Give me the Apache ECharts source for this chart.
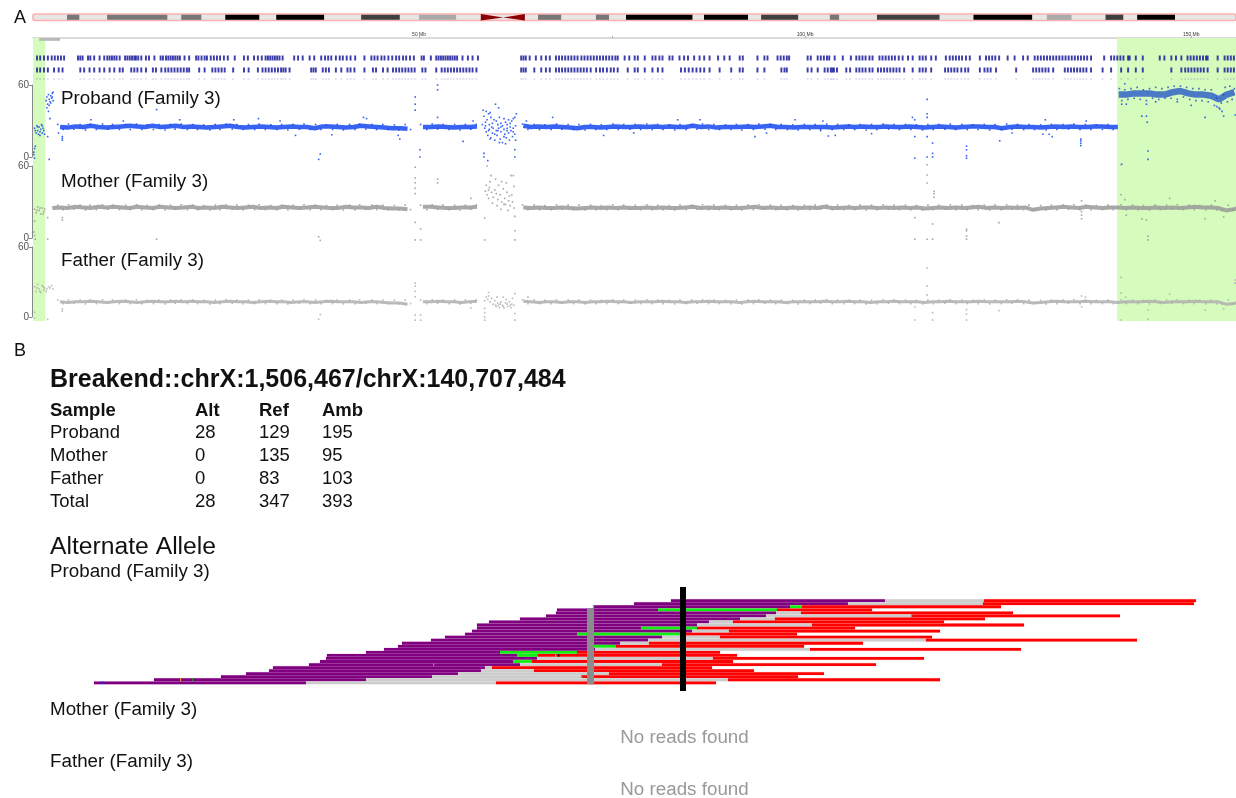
<!DOCTYPE html>
<html lang="en">
<head>
    <meta charset="UTF-8"/>
    <title>Breakend chrX</title>
    <script src="https://cdn.jsdelivr.net/npm/echarts@6/dist/echarts.min.js"></script>
    <style>
        html, body { margin: 0; background: #fff; }
        #chart { width: 1236px; height: 798px; }
    </style>
</head>
<body>
<div id="chart"></div>
<script>
// chromosome position in Mb
const chromEnd = 155.8;
// ideogram bands: start, end, stain
const bandStart = [4.4,9.6,19.2,24.9,31.5,42.5,50,65.4,72.9,76.8,86.9,94.3,103.2,109.3,121.8,131.3,138.9,143];
const bandEnd = [6,17.4,21.8,29.3,37.7,47.5,54.8,68.4,74.6,85.4,92.6,99.1,104.4,117.4,129.4,134.5,141.2,147.9];
const bandStain = ['#777','#777','#777','#000','#000','#3f3f3f','#aaa','#777','#777','#000','#000','#3f3f3f','#777','#3f3f3f','#000','#aaa','#3f3f3f','#000'];
const centromere = [58, 60.9, 63.7];
const highlightRanges = [[0, 1.6], [140.4, 155.8]];
const rulerLabels = [50, 100, 150];
const rulerTicks = [50, 75, 100, 150];
const mappedBar = [0.8, 3.5];

const geneRow1 = [0.4,0.8,1.3,1.8,2.3,2.7,3.1,3.5,3.9,5.7,6,6.3,7,7.3,7.8,8.5,9.1,9.5,9.8,10.1,10.4,10.7,11.1,11.8,12.1,12.4,12.7,13,13.2,13.5,13.9,14.5,14.9,15.6,16.4,16.7,17.1,17.4,17.7,18,18.3,18.6,18.9,19.5,20.1,21,21.3,21.7,22.1,22.4,22.9,23.3,23.7,24.1,24.6,25.1,26,27.2,27.7,28.5,29,29.5,30,30.3,30.6,30.9,31.2,31.5,31.8,32.2,33.7,34.2,34.8,35.7,36.3,37.2,37.7,38.1,38.5,39.1,39.6,40,40.5,41,41.6,42.8,43.7,44.1,44.5,45,45.4,45.9,46.4,46.9,47.3,47.8,48.2,48.7,49.2,
50.2,50.5,51.4,52.1,52.4,52.7,53,53.3,53.6,53.9,54.2,54.5,54.8,55.5,56.2,56.8,57.5,63.1,63.4,63.7,64.2,65,65.7,66.3,66.8,67.6,68,68.4,68.8,69.2,69.6,70,70.4,70.9,71.3,71.7,72.1,72.5,72.9,73.3,73.7,74.1,74.5,74.9,75.3,75.6,76.5,77.1,77.8,78.2,79.1,80.1,80.5,81,81.4,82.3,82.7,83.6,84.2,84.7,85.5,86.2,86.8,87.5,88.6,89.4,90.1,91.4,91.8,93.7,94.6,95,96.3,96.7,97.1,97.5,97.8,100.2,100.6,101.5,101.9,102.3,102.7,103,103.7,
104.75,105.8,106.5,106.9,107.3,107.7,108.2,108.6,109.5,109.9,110.3,110.7,111.1,111.5,112,112.5,113.2,113.8,114.7,115.1,115.5,116.2,116.8,118.1,118.6,119,119.4,119.8,120.2,120.7,121.2,122.5,123.3,123.7,124.1,124.5,125,126.1,127,128.1,128.7,129.6,130,130.4,130.8,131.2,131.6,132,132.4,132.8,133.2,133.6,134,134.4,134.8,135.2,135.6,136,136.4,136.9,138.6,139.5,139.9,140.3,140.7,141.1,141.7,141.9,142.7,143.6,145.8,146.4,147.3,147.9,148.6,149.4,149.8,150.2,150.6,151,151.4,151.8,152,153.3,154.2,154.6,155,155.4];
const geneRow2 = [0.4,0.8,1.3,1.8,2.6,3.2,3.7,6,6.5,7.2,7.8,8.5,9.1,9.8,10.4,11.1,11.5,12.6,13,13.4,13.9,14.5,15.4,15.8,16.5,17,17.4,17.8,18.2,18.6,19,19.4,19.8,20.1,21.4,22.1,23.1,23.5,23.9,24.3,24.7,25.8,27.2,27.8,29,29.6,30,30.4,30.8,31.2,31.6,32,32.3,32.6,33.1,35.9,36.2,36.5,37.4,37.8,38.2,39.1,39.8,40.6,41,41.5,42.8,43.9,44.3,45.2,45.8,46.5,46.9,47.3,47.7,48.1,48.5,48.9,49.3,
50.3,50.7,52.1,52.8,53.2,53.6,54,54.4,54.8,55.2,55.6,56,56.4,56.8,57.3,63.1,63.4,63.7,64.8,65.7,66.3,66.8,67.6,68,68.4,68.8,69.2,69.6,70,70.4,70.8,71.2,71.6,72.1,72.8,73.3,73.7,74.2,74.7,75.1,75.6,76.9,77.8,78.2,79.1,80.1,80.8,81.4,83.8,84.3,84.8,85.3,85.8,86.3,86.8,87.5,88.8,90.3,91.4,91.8,93.7,94.6,96.8,97.2,97.5,100.2,100.7,101.5,102.4,102.8,103.2,103.6,104,
103.4,105.2,105.7,106.5,106.9,107.3,107.7,108.2,108.6,109.3,109.7,110.1,110.5,110.9,111.3,111.7,112.1,112.7,113.8,114.7,115.1,115.5,116.2,118,118.4,118.8,119.2,119.6,120.1,120.6,121,122.5,123.1,123.5,123.9,124.6,127.2,129.4,129.8,130.2,130.6,131,131.4,132,133.5,133.9,134.3,134.7,135.1,135.5,135.9,136.3,136.9,138.4,139.5,140.8,141.7,142.7,143.6,147.3,148.6,149.1,149.5,149.9,150.3,150.7,151.1,151.5,152,153.3,154.2,154.6,155,155.4];

// depth per Mb bin
const probandDepth = [null,null,null,25,24.5,25.5,25,26,25,24.5,25,25.5,26,25.5,25,26,25,25.5,26,25,25.5,25,24.5,25,25.5,26,25,24.5,25,25.5,25,24.5,25,25.5,25,25,24,25.5,25.5,25,24.5,25,26,25.5,25,24.5,24,24,23.5,null,25,25,25.5,25,24.5,25,25,25.5,null,null,null,null,null,26,25,25.5,25,25.5,25,24.5,24,25,25,24.5,25,25.5,25,25,25.5,25,25.5,25,25.5,25,25,26,25,25.5,24.5,25,25,25,25.5,25,25.5,26,25,25,24.5,25,25,25,25,24.5,25,25.5,25,25.5,25,25,25.5,25,25,25.5,25,24.5,25,25.5,25,24.5,25,25.5,25.5,25,25,24,25,25.5,25,25,24.5,25,25.5,25,25.5,25,25,25.5,25.5,25,25];
const probandPar = [52,52,53,53,53,52,52,54,55,53,52,52,51,48,52,54];
const motherDepth = [null,null,25,25.5,25,26,25.5,25,26,25.5,26,25.5,25,26,25.5,25,26,25.5,25,25.5,26,25,25.5,25,26,25.5,25,25.5,26,25,25.5,25,26,25.5,25,25.5,26,25.5,25,25,26,25.5,25.5,25,26,25,24.5,24.5,24,null,26,26,25.5,25,25,25.5,25.5,26,null,null,null,null,null,25.5,25,25.5,25,25,25.5,25,24.5,25,25.5,25,25.5,25,25.5,25,25,25.5,25,25.5,25,25,25.5,26,25,25.5,25,25.5,25,25,25.5,26,25,25.5,25,25,25.5,25,25.5,25,26,25,25,25.5,25,25.5,25.5,25,25.5,25,25.5,25,25.5,24.5,25,25.5,25,25.5,25,25.5,26,25,25.5,25,25.5,25,25.5,23.5,24.5,25,25.5,26,25.5,25,26,25.5,25,25.5,25.5,25,25.5,25,25,25.5,25,25.5,25,25.5,26,25.5,25.5,25,23,24,25.5];
const fatherDepth = [null,null,null,13,12.5,13,13,13.5,13,12.5,13,13.5,13,12.5,13,13.5,13,13,13.5,13,13.5,13,13,12.5,13,13.5,13,13,12.5,13,13.5,13,13,12.5,13,13,12.5,13,13.5,13,13,13,12.5,13,13,12.5,12,12,11,null,13,13,13.5,13,13,12.5,13,13.5,null,null,null,null,null,13.5,13,12.5,13,13,12.5,13,13,12.5,13,13,13.5,13,13,12.5,13,13,13,13.5,13,13,12.5,13,13,13.5,13,13,13,12.5,13,13.5,13,13,13,12.5,13,13,13,13,13.5,13,13,13.5,13,13,12.5,13,13,13.5,13,13,13,12.5,13,13,13.5,13,13,13,13.5,13,13,13,13,13.5,13,12,12.5,13,13.5,13,13,13,13.5,13,13,13,12.5,13,13,13,13.5,13,12.5,13,13,13,13.5,13,13,13,11,11.5,13];

// speckle around the main band: [Mb, deviation from band]
const bandSpeckle = [[3.2,3],[3.9,-3],[4.6,3.5],[5.3,-2.5],[6.1,3],[6.8,-3.5],[7.4,3],[8.2,-3],[9,3.5],[9.7,-2.5],[10.3,3],[11.2,-3],[12,3],[12.6,-3],[13.4,3.5],[14.1,-3],[14.8,2.5],[15.6,-3],[16.3,3],[17.1,-3.5],[17.8,3],[18.4,-2.5],[19.2,3.5],[20,-3],[20.7,3],[21.3,-3],[22.1,2.5],[22.9,-3.5],[23.6,3],[24.2,-3],[25,3.5],[25.8,-2.5],[26.4,3],[27.2,-3],[27.9,3],[28.7,-3],[29.3,3.5],[30.1,-3],[30.8,2.5],[31.6,-3],[32.2,3],[33,-3.5],[33.7,3],[34.5,-2.5],[35.1,3.5],[35.9,-3],[36.6,3],[37.3,-3],[38,2.5],[38.8,-3],[39.4,3],[40.2,-3.5],[41,3],[41.7,-3],[42.3,3.5],[43.1,-2.5],[43.9,3],[44.5,-3],[45.3,3],[46,-3],[46.8,2.5],[47.4,-3.5],[48.2,3],[48.9,-3],
[50.2,3],[51,-3],[51.7,3.5],[52.4,-2.5],[53.1,3],[53.9,-3],[54.6,3],[55.3,-3.5],[56,3],[56.7,-2.5],[57.4,3],[63.4,3.5],[64.1,-3],[64.9,3],[65.6,-3],[66.3,2.5],[67.1,-3],[67.8,3.5],[68.5,-2.5],[69.3,3],[70,-3],[70.7,3],[71.5,-3.5],[72.2,3],[72.9,-3],[73.6,2.5],[74.3,-3],[75.1,3.5],[75.8,-3],[76.5,3],[77.3,-2.5],[78,3],[78.7,-3],[79.5,3.5],[80.2,-3],[80.9,3],[81.6,-3],[82.4,2.5],[83.1,-3.5],[83.8,3],[84.6,-3],[85.3,3],[86,-2.5],[86.7,3.5],[87.5,-3],[88.2,3],[88.9,-3],[89.7,2.5],[90.4,-3],[91.1,3],[91.8,-3.5],[92.6,3],[93.3,-3],[94,3.5],[94.8,-2.5],[95.5,3],[96.2,-3],[96.9,3],[97.7,-3],[98.4,2.5],[99.1,-3.5],[99.9,3],[100.6,-3],[101.3,3],[102,-2.5],[102.8,3.5],[103.5,-3],[104.2,3],[105,-3],[105.7,2.5],[106.4,-3],[107.1,3],[107.9,-3.5],[108.6,3],[109.3,-3],[110.1,3.5],[110.8,-2.5],[111.5,3],[112.2,-3],[113,3],[113.7,-3],[114.4,2.5],[115.2,-3.5],[115.9,3],[116.6,-3],[117.3,3],[118.1,-2.5],[118.8,3.5],[119.5,-3],[120.3,3],[121,-3],[121.7,2.5],[122.4,-3],[123.2,3],[123.9,-3.5],[124.6,3],[125.4,-3],[126.1,3.5],[126.8,-2.5],[127.5,3],[128.3,-3],[129,3],[129.7,-3],[130.5,2.5],[131.2,-3.5],[131.9,3],[132.6,-3],[133.4,3],[134.1,-2.5],[134.8,3.5],[135.6,-3],[136.3,3],[137,-3],[137.7,2.5],[138.5,-3],[139.2,3],[139.9,-3],
[140.9,3.5],[141.6,-3],[142.4,3],[143.1,-3],[143.8,2.5],[144.6,-3.5],[145.3,3],[146,-3],[146.8,3],[147.5,-2.5],[148.2,3.5],[149,-3],[149.7,3],[150.4,-3],[151.1,2.5],[151.9,-3.5],[152.6,3],[153.3,-3.5],[154,-4],[154.8,3],[155.4,-3]];
const parSpeckle = [[140.7,57],[141,47],[141.4,56],[141.8,48],[142.2,57],[142.6,49],[143,58],[143.4,48],[143.8,56],[144.2,47],[144.6,57],[145,49],[145.4,58],[145.8,48],[146.2,57],[146.6,49],[147,58],[147.4,49],[147.8,59],[148.2,48],[148.6,59],[149,50],[149.4,58],[149.8,48],[150.2,57],[150.6,47],[151,57],[151.4,47],[151.8,56],[152.2,46],[152.6,56],[153,43],[153.3,49],[153.6,41],[153.9,45],[154.2,52],[154.4,58],[154.7,46],[155,59],[155.3,48],[155.6,57]];

// scattered depth points [Mb, depth]
const probandPoints = [[0.2,24],[0.4,20],[0.5,26],[0.6,22],[0.7,19],[0.8,25],[0.9,21],[1,23],[1.1,27],[1.2,20],[1.3,24],[1.4,22],[1.5,19],[0.3,22],[0.6,25],[0.9,18],[1.2,26],[0.1,4],[0.1,2],[0.2,-1],[0.2,7],[0.3,9],
[1.7,47],[1.8,50],[1.9,44],[2,52],[2.1,48],[2.2,46],[2.3,51],[2.4,49],[2.5,53],[2.6,47],[2.1,43],[1.8,41],[2.6,54],[2,38],[2.3,45],[2.2,32],[2.1,-2],[1.9,17],[2.5,50],
[3.8,17],[3.8,15.5],[3.8,14],[3.3,20],[7.5,31],[11.7,30],[16,39.5],[19,31],[26,31],[29.2,32],[32,30],[34,18],[38.7,18.5],[37.2,2.5],[37,-2],[42.8,33],[43.2,32],[47.3,18],[47.5,15],[49.5,44],[49.5,50],[49.5,39],
[52.4,60],[52.4,56],[52.4,33],[50.1,6],[50.1,0],[55.7,13],[57,30],[58.4,3],[58.4,0],[58.9,-3],[62.4,6],[62.4,0],[63.9,30],[67.3,33],
[58.3,39],[58.7,38],[59,36],[59.2,37],[59.9,44],[60.3,41],[58.4,34],[58.6,29],[58.8,31],[59.1,27],[59.3,33],[59.5,28],[59.7,31],[60,30],[60.2,27],[60.4,33],[60.6,28],[60.8,26],[61,32],[61.2,29],[61.4,27],[61.6,31],[61.8,28],[62,30],[62.2,32],[62.4,33],[58.5,24],[58.7,21],[58.9,18],[59.1,23],[59.3,16],[59.5,20],[59.6,24],[59.8,14],[60,22],[60.1,18],[60.3,24],[60.5,15],[60.6,21],[60.8,12],[61,23],[61.1,19],[61.3,16],[61.4,24],[61.6,20],[61.7,14],[61.9,22],[62.1,17],[62.2,24],[62.4,19],[62.5,26],[62.5,14],[58.6,26],[59,22],[59.4,25],[59.8,19],[60.2,22],[60.6,25],[61,17],[61.4,22],[61.8,25],[62.2,21],[59.2,15],[60.4,12],[61.2,11],[58.2,27],[62.6,36],
[73.9,18],[77.8,20],[83.5,31],[86.4,31],[93.5,17],[95,20],[98.7,31],[102.3,30],[103,17.5],[102,22],
[103.9,18],[108.6,19.5],[113.9,33],[114.2,31],[114.2,17],[114.2,-1],[115.8,48],[115.8,36],[115.8,33],[115.8,17],[115.8,0],[116.5,11.6],[116.5,3],[116.5,0],[120.9,9],[120.9,6],[120.9,1],[120.9,-1],[125.2,13.5],[126.8,20],[130.8,19],[131.1,31],[131.6,19],[132,17],[136.4,30],[135.7,15],[135.7,13.5],[135.7,11.5],[135.7,9.5],
[141.4,61],[141,44],[141.6,44],[143.6,34],[144.2,34],[144.3,29],[144.4,5],[144.4,-2],[141,-6],[144.2,44],[145.4,46],[150,43],[148.2,46],[151.8,33],[153.3,42],[153.7,40],[154.2,34],[154,38],[155.7,35]];
const motherPoints = [[0.2,24],[0.4,21],[0.6,26],[0.8,23],[1,20],[1.2,25],[1.4,22],[1.5,24],[0.5,23],[0.9,25],[1.3,20],[0.2,14],[0.1,5],[0.2,2],[0.3,-1],[1.9,-1],[1.9,17],[3.8,17],[3.8,15],[16,-1],[37,1],[37.2,-2],
[49.5,59],[49.5,50],[49.5,46],[49.5,41.5],[49.5,37],[49.5,13],[50.2,7.5],[49.5,-1.6],[50.2,-1.6],[52.4,49],[52.4,46],[56.7,33],[58.5,16.6],[58.8,60],[62.4,6],[62.4,18],[58.5,-1.6],[62.4,-1.6],
[58.7,44],[59,40],[59.2,47],[59.4,38],[58.8,36],[59.1,42],[59.6,34],[59.8,40],[60,37],[60.2,32],[60.3,44],[60.5,36],[60.7,30],[60.9,41],[61.1,33],[61.2,28],[61.4,38],[61.6,31],[61.8,27],[62,36],[62.1,30],[62.2,52],[61.9,52],[62.3,43],[59.3,52],[59.9,49],[60.7,47],[61.3,46],[58.6,39],[59,33],[59.5,29],[60.1,27],[60.6,24],[61,28],[61.5,23],[61.7,35],[62.3,25],
[115.8,61],[115.8,52.5],[115.8,45.8],[116.7,39],[116.7,37],[116.7,34],[114.2,17],[114.2,-1],[116.5,11.7],[116.5,-1],[115.8,-1],[120.9,7.5],[120.9,6],[120.9,1.6],[120.9,-1],[125.1,12.8],[135.8,31],[135.8,22],[135.8,19],[135.8,16],
[140.9,61],[140.9,36],[144.4,1.6],[144.4,-1.6],[147.2,33],[151.8,16],[153.1,31],[154.2,17.5],[143.6,16],[144.2,15],[141.4,32],[141.6,19]];
const fatherPoints = [[0.2,26],[0.4,22],[0.6,28],[0.8,24],[1,21],[1.2,27],[1.4,23],[1.5,25],[0.5,25],[0.9,22],[1.3,26],[1.8,24],[2,26],[2.2,25],[2.4,27],[2.6,24],[1.7,22],[0.2,4],[0.2,-1],[1.9,-2],[3.8,7],[3.8,5],[37,-2],[37.2,2],
[49.5,29],[49.5,26.5],[49.5,22],[49.5,17.4],[49.5,1.7],[49.5,-2.7],[50.2,1.7],[50.2,-2.7],[58.5,7.4],[58.5,3.7],[58.5,0],[58.5,-2.7],[62.4,3],[62.4,-2.7],[64.1,17],[56.7,7.7],[59,21],[59,18],[58.7,17],[58.9,15],[59.2,13],[59.4,16],[59.6,11],[59.8,14],[60,9],[60.2,12],[60.1,17],[60.4,8],[60.6,13],[60.8,10],[60.9,17],[61,7.7],[61.2,12],[61.3,15],[61.5,9],[61.7,13],[61.9,8],[62,11],[62.1,16],[62.3,10],[62.4,20],[60.5,11],[60.9,9],[61.4,11],[61.8,10],[59.9,10],[60.3,10],[58.5,14],
[115.8,42],[115.8,26.5],[115.8,19],[114.2,8.6],[114.2,-2.6],[116.5,3.7],[116.5,-2.6],[120.9,6.3],[120.9,2.6],[120.9,-2.6],[125.1,5.4],[135.8,18],[135.8,8.8],[136.3,17],[140.9,34],[140.9,20.5],[140.9,-2.6],[141.5,17],[144.4,6],[144.4,-2],[147.2,19.7],[151.8,5.9],[154.2,7],[155.7,31.7],[155.7,29]];

// reads, top row first. Offsets from the breakpoint; purple = aligned to first locus,
// middle = ambiguous (grey) or microhomology (green), red = aligned to second locus
const readStart = [-12,-49,-90,-126,-127,-137,-163,-194,-206,-206,-211,-218,-238,-252,-281,-285,-299,-317,-356,-357,-363,-374,-410,-414,-437,-462,-529,-589];
const purpleEnd = [202,165,107,-25,93,83,57,26,14,-42,9,-106,-21,-35,-63,-91,-88,-183,-166,-146,-170,-163,-198,-202,-225,-251,-317,-377];
const redStart = [301,300,119,94,118,228,92,50,129,14,46,-3,37,243,-34,-67,127,-106,-145,30,-151,-21,-191,-149,-74,-102,45,-187];
const readEnd = [513,511,318,189,330,437,302,261,341,172,257,114,249,454,180,121,338,37,54,241,50,193,29,71,141,115,257,33];
const middleKind = ['amb','amb','micro','micro','amb','amb','amb','amb','amb','micro','amb','micro','amb','amb','amb','micro','amb','micro','micro','amb','micro','amb','amb','amb','amb','amb','amb','amb'];
const softColumn = [-96, -89, 3.6, 28.5];
// single base marks: row, offset, colour
const baseMarks = [[28,-581,'#2222ff'],[27,-503,'#ff9900'],[27,-491,'#119911'],[22,-250,'#999999'],[19,-128,'#ff9900'],[19,-125,'#000000'],[3,-90,'#00dddd'],[26,-102,'#00dddd'],[6,228,'#00dddd']];

const panelLabels = ['A', 'B'];
const trackNames = ['Proband (Family 3)', 'Mother (Family 3)', 'Father (Family 3)'];
const breakendTitle = 'Breakend::chrX:1,506,467/chrX:140,707,484';
const tableHeader = ['Sample', 'Alt', 'Ref', 'Amb'];
const sampleNames = ['Proband', 'Mother', 'Father', 'Total'];
const altCounts = [28, 0, 0, 28];
const refCounts = [129, 135, 83, 347];
const ambCounts = [195, 95, 103, 393];
const noReads = 'No reads found';

const FONT = '"Liberation Sans", Arial, sans-serif';
const readColors = { purple: '#800080', amb: '#cdcdcd', micro: '#11ee11', red: '#ff0000' };

function boxItem(api, x0, x1, y0, y1, style) {
    const a = api.coord([x0, y0]);
    const b = api.coord([x1, y1]);
    return { type: 'rect', shape: { x: a[0], y: a[1], width: b[0] - a[0], height: b[1] - a[1] }, style: style };
}

function text(str, x, y, size, opts) {
    return {
        type: 'text', x: x, y: y, silent: true, z: 100,
        style: Object.assign({ text: String(str), font: size + 'px ' + FONT, fill: '#111', verticalAlign: 'middle' }, opts || {})
    };
}

const textItems = [
    text(panelLabels[0], 14, 18, 18),
    text(panelLabels[1], 14, 351, 18),
    text(trackNames[0], 61, 98.5, 18.8),
    text(trackNames[1], 61, 182, 18.8),
    text(trackNames[2], 61, 261, 18.8),
    text(breakendTitle, 50, 380.5, 25, { font: 'bold 25px ' + FONT }),
    text('Alternate Allele', 50, 547, 24.7),
    text(trackNames[0], 50, 572, 18.8),
    text(trackNames[1], 50, 710, 18.8),
    text(trackNames[2], 50, 762, 18.8),
    text(noReads, 684.5, 738, 18.8, { fill: '#999', align: 'center' }),
    text(noReads, 684.5, 790, 18.8, { fill: '#999', align: 'center' })
];
const tableX = [50, 195, 259, 322];
const tableY = [411, 433, 456, 479, 502];
tableHeader.forEach((h, c) => textItems.push(text(h, tableX[c], tableY[0], 18.5, { font: 'bold 18.5px ' + FONT })));
sampleNames.forEach((name, r) => {
    [name, altCounts[r], refCounts[r], ambCounts[r]].forEach((v, c) => textItems.push(text(v, tableX[c], tableY[r + 1], 18.5)));
});

const trackTop = [85, 166, 247];
const trackHeight = [72, 72, 70];
const grids = [
    { left: 33, right: 0, top: 14, height: 6.5 },
    { left: 33, right: 0, top: 38, height: 283 },
    { left: 33, right: 0, top: 50, height: 32 },
    { left: 33, right: 0, top: trackTop[0], height: trackHeight[0] },
    { left: 33, right: 0, top: trackTop[1], height: trackHeight[1] },
    { left: 33, right: 0, top: trackTop[2], height: trackHeight[2] },
    { left: 50, right: 0, top: 587, height: 104 }
];
const chromX = i => ({ type: 'value', gridIndex: i, min: 0, max: chromEnd, show: false });
const xAxes = [
    chromX(0),
    {
        type: 'value', gridIndex: 1, position: 'top', min: 0, max: chromEnd,
        axisLine: { show: true, onZero: false, lineStyle: { color: '#cfcfcf', width: 1.5 } },
        axisTick: { show: true, length: 2, customValues: rulerTicks, lineStyle: { color: '#888', width: 0.6 } },
        splitLine: { show: false },
        axisLabel: { fontSize: 5, margin: 1, color: '#333', fontFamily: FONT, customValues: rulerLabels, formatter: v => v + ' Mb' }
    },
    chromX(2), chromX(3), chromX(4), chromX(5),
    { type: 'value', gridIndex: 6, min: -633, max: 553, show: false }
];
const depthY = i => ({
    type: 'value', gridIndex: i, min: 0, max: 60, interval: 60, offset: 1,
    axisLine: { show: true, onZero: false, lineStyle: { color: '#888', width: 1 } },
    axisTick: { show: true, length: 3, lineStyle: { color: '#888' } },
    splitLine: { show: false },
    axisLabel: { fontSize: 10, margin: 3, color: '#555', fontFamily: FONT }
});
const yAxes = [
    { type: 'value', gridIndex: 0, min: 0, max: 1, show: false },
    { type: 'value', gridIndex: 1, min: 0, max: 1, show: false },
    { type: 'value', gridIndex: 2, min: 0, max: 32, inverse: true, show: false },
    depthY(3), depthY(4), depthY(5),
    { type: 'value', gridIndex: 6, min: -3.5, max: 30.7, inverse: true, show: false }
];

const binned = (arr, from) => arr.map((v, i) => [from + i + 0.5, v]);
const genes = (arr, rowY, h, alpha) => arr.map(x => [x, rowY, h, alpha]);

const readSegments = [];
readStart.forEach((s, i) => {
    const row = i + 1;
    readSegments.push([row, s, purpleEnd[i], readColors.purple]);
    readSegments.push([row, purpleEnd[i], redStart[i], readColors[middleKind[i]]]);
    readSegments.push([row, redStart[i], readEnd[i], readColors.red]);
});

const series = [
    // ideogram
    {
        type: 'custom', xAxisIndex: 0, yAxisIndex: 0, silent: true, z: 2, clip: false,
        data: [[0, chromEnd]],
        renderItem: (p, api) => {
            const it = boxItem(api, api.value(0), api.value(1), 1, 0, { fill: '#e6e6e6', stroke: '#ffb0b0', lineWidth: 1.6 });
            it.shape.r = 2;
            return it;
        }
    },
    {
        type: 'custom', xAxisIndex: 0, yAxisIndex: 0, silent: true, z: 3,
        data: bandStart.map((s, i) => [s, bandEnd[i], i]),
        renderItem: (p, api) => boxItem(api, api.value(0), api.value(1), 0.9, 0.1, { fill: bandStain[api.value(2)] })
    },
    {
        type: 'custom', xAxisIndex: 0, yAxisIndex: 0, silent: true, z: 3,
        data: [[centromere[0], centromere[1], centromere[2]]],
        renderItem: (p, api) => ({
            type: 'group',
            children: [
                { type: 'polygon', shape: { points: [api.coord([api.value(0), 1]), api.coord([api.value(0), 0]), api.coord([api.value(1), 0.45])] }, style: { fill: '#8b0000' } },
                { type: 'polygon', shape: { points: [api.coord([api.value(2), 1]), api.coord([api.value(2), 0]), api.coord([api.value(1), 0.45])] }, style: { fill: '#8b0000' } }
            ]
        })
    },
    // highlight bands
    {
        type: 'custom', xAxisIndex: 1, yAxisIndex: 1, silent: true, z: 1,
        data: highlightRanges,
        renderItem: (p, api) => boxItem(api, api.value(0), api.value(1), 1, 0, { fill: '#d5fcbd' })
    },
    {
        type: 'custom', xAxisIndex: 1, yAxisIndex: 1, silent: true, z: 2,
        data: [mappedBar],
        renderItem: (p, api) => boxItem(api, api.value(0), api.value(1), 1, 0.99, { fill: '#b8b8b8' })
    },
    // genes
    {
        type: 'custom', xAxisIndex: 2, yAxisIndex: 2, silent: true, z: 4,
        data: genes(geneRow1, 8, 5, 0.85).concat(genes(geneRow2, 20, 5, 0.85), genes(geneRow2, 29, 1, 0.25)),
        renderItem: (p, api) => {
            const x = api.value(0), y = api.value(1), h = api.value(2);
            return boxItem(api, x, x + 0.25, y - h / 2, y + h / 2, { fill: '#1a1a9c', opacity: api.value(3) });
        }
    }
];

// depth tracks
const inBand = (list, base, scale, limit) => list.filter(s => s[0] >= limit[0] && s[0] <= limit[1]).map(s => [s[0], base + s[1] * scale]);
const trackStyle = [
    { color: '#1546ee', depth: probandDepth, points: probandPoints, width: 4.5, base: 25, scale: 0.7, limit: [3, 140.3] },
    { color: '#999999', depth: motherDepth, points: motherPoints, width: 4, base: 25.5, scale: 0.62, limit: [2, 156] },
    { color: '#aeaeae', depth: fatherDepth, points: fatherPoints, width: 3, base: 13, scale: 0.5, limit: [3, 156] }
];
trackStyle.forEach((t, i) => {
    const axis = i + 3;
    series.push({
        type: 'line', xAxisIndex: axis, yAxisIndex: axis, z: 5, silent: true, symbol: 'none',
        data: binned(t.depth, 0), connectNulls: false,
        lineStyle: { color: t.color, width: t.width, opacity: 0.85, join: 'bevel' }
    });
    series.push({
        type: 'scatter', xAxisIndex: axis, yAxisIndex: axis, z: 6, silent: true, clip: false,
        symbol: 'rect', symbolSize: 1.6, data: t.points.concat(inBand(bandSpeckle, t.base, t.scale, t.limit)),
        itemStyle: { color: t.color, opacity: 0.85 }
    });
});
series.push({
    type: 'line', xAxisIndex: 3, yAxisIndex: 3, z: 5, silent: true, symbol: 'none',
    data: binned(probandPar, 140.1),
    lineStyle: { color: '#1546c8', width: 6.5, opacity: 0.72, join: 'bevel' }
});
series.push({
    type: 'scatter', xAxisIndex: 3, yAxisIndex: 3, z: 6, silent: true, clip: false,
    symbol: 'rect', symbolSize: 1.6, data: parSpeckle,
    itemStyle: { color: '#1546c8', opacity: 0.8 }
});

// reads
series.push({
    type: 'custom', xAxisIndex: 6, yAxisIndex: 6, silent: true, z: 7,
    data: readSegments.map((r, i) => [r[0], r[1], r[2], i]),
    renderItem: (p, api) => {
        const row = api.value(0);
        const color = readSegments[api.value(3)][3];
        return boxItem(api, api.value(1), api.value(2), row - 0.46, row + 0.46, { fill: color, stroke: color, lineWidth: 0.5, strokeOpacity: 0.3 });
    }
});
series.push({
    type: 'custom', xAxisIndex: 6, yAxisIndex: 6, silent: true, z: 8,
    data: [softColumn],
    renderItem: (p, api) => boxItem(api, api.value(0), api.value(1), api.value(2), api.value(3), { fill: '#8c8c8c' })
});
series.push({
    type: 'custom', xAxisIndex: 6, yAxisIndex: 6, silent: true, z: 9,
    data: baseMarks.map((m, i) => [m[0], m[1], i]),
    renderItem: (p, api) => {
        const row = api.value(0), x = api.value(1);
        return boxItem(api, x, x + 1.2, row - 0.4, row + 0.4, { fill: baseMarks[api.value(2)][2] });
    }
});
series.push({
    type: 'custom', xAxisIndex: 6, yAxisIndex: 6, silent: true, z: 10,
    data: [[-3, 3]],
    renderItem: (p, api) => boxItem(api, api.value(0), api.value(1), -3.5, 30.7, { fill: '#000' })
});

const chart = echarts.init(document.getElementById('chart'), null, { renderer: 'canvas' });
chart.setOption({
    animation: false,
    backgroundColor: '#fff',
    tooltip: { show: false },
    grid: grids,
    xAxis: xAxes,
    yAxis: yAxes,
    series: series,
    graphic: { elements: textItems }
});
</script>
</body>
</html>
